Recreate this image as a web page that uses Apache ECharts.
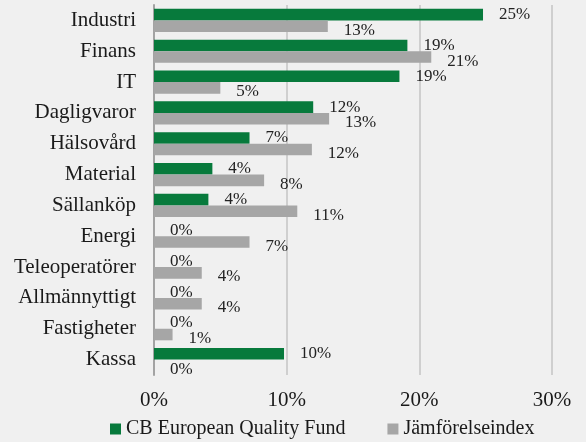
<!DOCTYPE html>
<html>
<head>
<meta charset="utf-8">
<script src="https://cdn.jsdelivr.net/npm/echarts@6/dist/echarts.min.js"></script>
<style>
  html, body { margin: 0; padding: 0; background: #f0f0f0; }
  #main { width: 586px; height: 442px; }
</style>
</head>
<body>
<div id="main"></div>
<script>
const categories = ['Industri', 'Finans', 'IT', 'Dagligvaror', 'Hälsovård', 'Material', 'Sällanköp',
  'Energi', 'Teleoperatörer', 'Allmännyttigt', 'Fastigheter', 'Kassa'];
const fundValues = [24.8, 19.1, 18.5, 12.0, 7.2, 4.4, 4.1, 0, 0, 0, 0, 9.8];
const indexValues = [13.1, 20.9, 5.0, 13.2, 11.9, 8.3, 10.8, 7.2, 3.6, 3.6, 1.4, 0];
const seriesNames = ['CB European Quality Fund', 'Jämförelseindex'];

const font = 'Liberation Serif';
const chart = echarts.init(document.getElementById('main'));

function pct(p) {
  return Math.round(p.value) + '%';
}

const option = {
  backgroundColor: '#f0f0f0',
  animation: false,
  textStyle: {fontFamily: font},
  grid: {left: 154, right: 34, top: 5, bottom: 67},
  legend: {
    left: 105,
    bottom: -2,
    icon: 'rect',
    itemWidth: 11,
    itemHeight: 11,
    itemGap: 42,
    textStyle: {fontFamily: font, fontSize: 20, color: '#1a1a1a'},
    data: seriesNames
  },
  xAxis: {
    type: 'value',
    min: 0,
    max: 30,
    interval: 10,
    axisLine: {show: false},
    axisTick: {show: false},
    axisLabel: {formatter: '{value}%', fontFamily: font, fontSize: 21, color: '#1a1a1a', margin: 15},
    splitLine: {lineStyle: {color: '#c4c4c4', width: 1.5}}
  },
  yAxis: {
    type: 'category',
    inverse: true,
    data: categories,
    axisLine: {lineStyle: {color: '#a3a3a3', width: 2}},
    axisTick: {length: 6, lineStyle: {color: '#a3a3a3', width: 2}},
    axisLabel: {fontFamily: font, fontSize: 21, color: '#1a1a1a', margin: 18}
  },
  series: [
    {
      name: seriesNames[0],
      type: 'bar',
      data: fundValues,
      barGap: '0%',
      barCategoryGap: '25%',
      itemStyle: {color: '#077a3c'},
      label: {
        show: true, position: 'right', distance: 16, formatter: pct,
        fontFamily: font, fontSize: 17, color: '#222'
      }
    },
    {
      name: seriesNames[1],
      type: 'bar',
      data: indexValues,
      itemStyle: {color: '#a6a6a6'},
      label: {
        show: true, position: 'right', distance: 16, offset: [0, 4], formatter: pct,
        fontFamily: font, fontSize: 17, color: '#222'
      }
    }
  ]
};

chart.setOption(option);
</script>
</body>
</html>
